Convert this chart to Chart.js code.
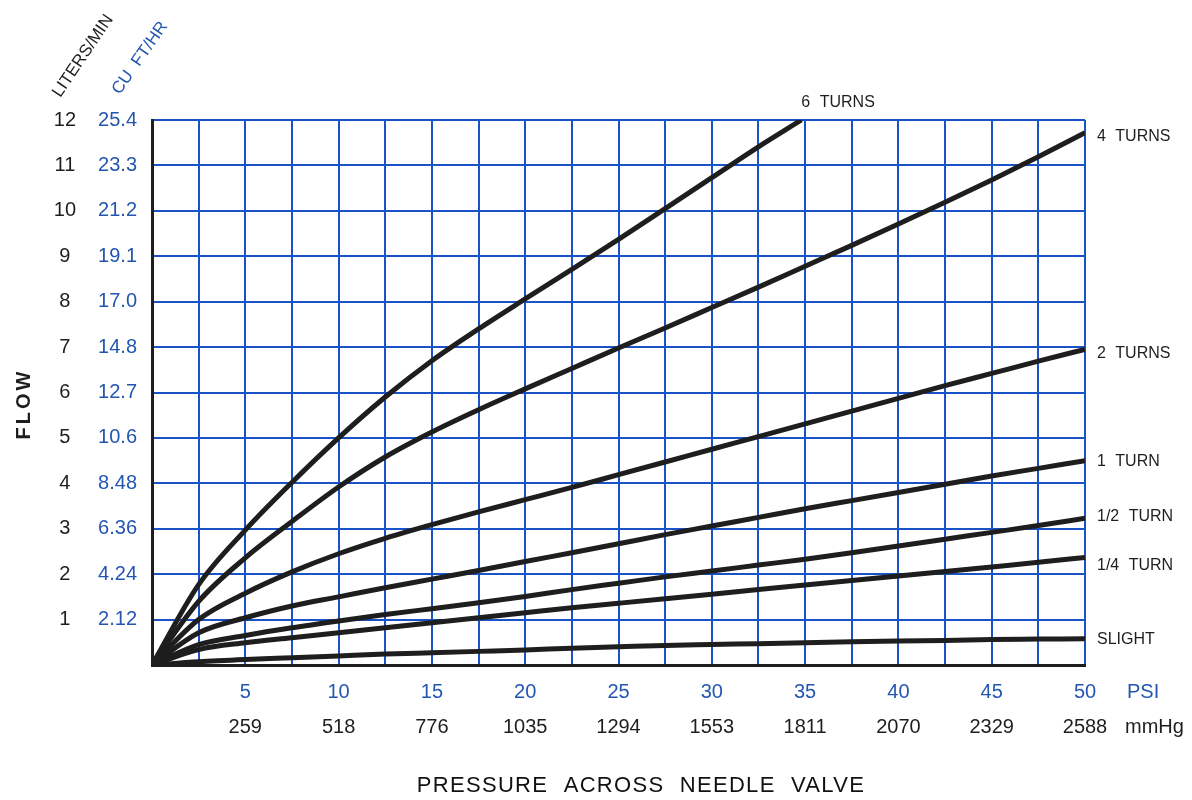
<!DOCTYPE html>
<html>
<head>
<meta charset="utf-8">
<script src="https://cdn.jsdelivr.net/npm/chart.js@4.4.1/dist/chart.umd.min.js"></script>
<style>
  body { margin: 0; background: #fff; }
  #wrap { width: 1192px; height: 800px; }
</style>
</head>
<body>
<div id="wrap"><canvas id="flowChart" width="1192" height="800"></canvas></div>
<script>
// tick labels
const psiTicks = [5, 10, 15, 20, 25, 30, 35, 40, 45, 50];
const mmHgLabels = ['259', '518', '776', '1035', '1294', '1553', '1811', '2070', '2329', '2588'];
const litersTicks = [1, 2, 3, 4, 5, 6, 7, 8, 9, 10, 11, 12];
const cuFtLabels = ['2.12', '4.24', '6.36', '8.48', '10.6', '12.7', '14.8', '17.0', '19.1', '21.2', '23.3', '25.4'];

const psiSteps = [0, 2.5, 5, 7.5, 10, 12.5, 15, 17.5, 20, 22.5, 25, 27.5, 30, 32.5, 35, 37.5, 40, 42.5, 45, 47.5, 50];
const sixTurnsPsi = [0, 2.5, 5, 7.5, 10, 12.5, 15, 17.5, 20, 22.5, 25, 27.5, 30, 32.5, 34.8];

// flow in liters/min
const sixTurns = [0, 1.77, 2.97, 4.02, 5.0, 5.9, 6.7, 7.4, 8.06, 8.71, 9.37, 10.05, 10.73, 11.41, 12.0];
const fourTurns = [0, 1.40, 2.36, 3.16, 3.92, 4.58, 5.13, 5.62, 6.08, 6.53, 6.98, 7.42, 7.87, 8.32, 8.78, 9.24, 9.71, 10.19, 10.68, 11.19, 11.72];
const twoTurns = [0, 1.0, 1.58, 2.05, 2.45, 2.79, 3.09, 3.37, 3.64, 3.91, 4.19, 4.47, 4.75, 5.03, 5.31, 5.59, 5.87, 6.15, 6.42, 6.69, 6.95];
const oneTurn = [0, 0.71, 1.04, 1.3, 1.5, 1.7, 1.89, 2.08, 2.28, 2.47, 2.67, 2.87, 3.06, 3.25, 3.44, 3.62, 3.8, 3.98, 4.16, 4.33, 4.5];
const halfTurn = [0, 0.45, 0.65, 0.82, 0.97, 1.11, 1.24, 1.37, 1.51, 1.66, 1.8, 1.94, 2.07, 2.2, 2.33, 2.47, 2.62, 2.77, 2.92, 3.07, 3.23];
const quarterTurn = [0, 0.34, 0.49, 0.6, 0.71, 0.82, 0.93, 1.04, 1.15, 1.26, 1.36, 1.46, 1.56, 1.66, 1.76, 1.86, 1.96, 2.06, 2.16, 2.26, 2.37];
const slight = [0, 0.07, 0.12, 0.16, 0.2, 0.24, 0.27, 0.3, 0.33, 0.37, 0.4, 0.43, 0.45, 0.47, 0.49, 0.51, 0.53, 0.54, 0.56, 0.57, 0.58];

const FONT = '"Liberation Sans", Arial, sans-serif';
const BLUE_TEXT = '#2456b0';
const GRID_BLUE = '#1a52c8';
const INK = '#1e1e1e';

// small vertical nudges for the curve names at the right edge
const labelNudge = { '4 TURNS': 4, '2 TURNS': 4, '1 TURN': 1, '1/2 TURN': -2, '1/4 TURN': 8, 'SLIGHT': 1 };

function pairs(xs, ys) {
    return ys.map((y, i) => ({ x: xs[i], y: y }));
}

function curve(label, xs, ys) {
    return {
        label: label,
        data: pairs(xs, ys),
        borderColor: INK,
        borderWidth: 5,
        pointRadius: 0,
        cubicInterpolationMode: 'monotone',
        fill: false
    };
}

function rotatedText(ctx, text, x, y, deg) {
    ctx.save();
    ctx.translate(x, y);
    ctx.rotate(deg * Math.PI / 180);
    ctx.fillText(text, 0, 0);
    ctx.restore();
}

const textPlugin = {
    id: 'valveText',
    afterDraw(chart) {
        const ctx = chart.ctx;
        const area = chart.chartArea;
        const xs = chart.scales.x;
        const ys = chart.scales.y;
        ctx.save();

        // curve names
        ctx.font = '16px ' + FONT;
        ctx.fillStyle = INK;
        ctx.textBaseline = 'middle';
        ctx.textAlign = 'left';
        ctx.wordSpacing = '5px';
        chart.data.datasets.forEach(ds => {
            const last = ds.data[ds.data.length - 1];
            const px = xs.getPixelForValue(last.x);
            const py = ys.getPixelForValue(last.y);
            if (last.x < xs.max) {
                ctx.fillText(ds.label, px, py - 17);
            } else {
                ctx.fillText(ds.label, area.right + 12, py + (labelNudge[ds.label] || 0));
            }
        });

        // units at the end of the x axes
        ctx.font = '20px ' + FONT;
        ctx.wordSpacing = '0px';
        ctx.fillStyle = BLUE_TEXT;
        ctx.fillText('PSI', area.right + 42, xs.top + 27);
        ctx.fillStyle = INK;
        ctx.fillText('mmHg', area.right + 40, chart.scales.x2.top + 17);

        // axis title
        ctx.textAlign = 'center';
        ctx.font = '22px ' + FONT;
        ctx.letterSpacing = '1.3px';
        ctx.wordSpacing = '8px';
        ctx.fillStyle = '#111';
        ctx.fillText('PRESSURE ACROSS NEEDLE VALVE', 641, 786);

        // left side titles
        ctx.letterSpacing = '0px';
        ctx.wordSpacing = '5px';
        ctx.font = '17px ' + FONT;
        ctx.fillStyle = INK;
        rotatedText(ctx, 'LITERS/MIN', area.left - 69, area.top - 64, -56);
        ctx.fillStyle = BLUE_TEXT;
        rotatedText(ctx, 'CU FT/HR', area.left - 12, area.top - 62, -55);

        ctx.fillStyle = INK;
        ctx.font = 'bold 20px ' + FONT;
        ctx.letterSpacing = '3px';
        rotatedText(ctx, 'FLOW', 24, 404, -90);

        ctx.restore();
    }
};

const tickFont = { family: FONT, size: 20 };

new Chart(document.getElementById('flowChart'), {
    type: 'line',
    data: {
        datasets: [
            curve('6 TURNS', sixTurnsPsi, sixTurns),
            curve('4 TURNS', psiSteps, fourTurns),
            curve('2 TURNS', psiSteps, twoTurns),
            curve('1 TURN', psiSteps, oneTurn),
            curve('1/2 TURN', psiSteps, halfTurn),
            curve('1/4 TURN', psiSteps, quarterTurn),
            curve('SLIGHT', psiSteps, slight)
        ]
    },
    options: {
        responsive: false,
        animation: false,
        layout: { padding: { left: 40, right: 107, top: 120, bottom: 50 } },
        plugins: { legend: { display: false }, tooltip: { enabled: false } },
        scales: {
            x: {
                type: 'linear', position: 'bottom', weight: 0,
                min: 0, max: 50,
                grid: { color: GRID_BLUE, lineWidth: 2, drawTicks: false, z: -1 },
                border: { color: INK, width: 3, z: 2 },
                ticks: {
                    stepSize: 2.5, autoSkip: false, maxRotation: 0, padding: 15,
                    color: BLUE_TEXT, font: tickFont,
                    callback: v => psiTicks.includes(v) ? String(v) : ''
                },
                afterFit: s => { s.height = 45; }
            },
            x2: {
                type: 'linear', position: 'bottom', weight: 1,
                min: 0, max: 50,
                grid: { display: false, drawTicks: false },
                border: { display: false },
                ticks: {
                    stepSize: 5, autoSkip: false, maxRotation: 0, padding: 5,
                    color: INK, font: tickFont,
                    callback: v => psiTicks.includes(v) ? mmHgLabels[psiTicks.indexOf(v)] : ''
                },
                afterFit: s => { s.height = 40; }
            },
            y: {
                type: 'linear', position: 'left', weight: 1,
                min: 0, max: 12,
                grid: { color: GRID_BLUE, lineWidth: 2, drawTicks: false, z: -1 },
                border: { display: false },
                ticks: {
                    stepSize: 1, autoSkip: false, padding: 16, crossAlign: 'center',
                    color: INK, font: tickFont,
                    callback: v => litersTicks.includes(v) ? String(v) : ''
                },
                afterFit: s => { s.width = 52; }
            },
            y2: {
                type: 'linear', position: 'left', weight: 0,
                min: 0, max: 12,
                grid: { display: false, drawTicks: false },
                border: { color: INK, width: 3, z: 2 },
                ticks: {
                    stepSize: 1, autoSkip: false, padding: 15, crossAlign: 'center',
                    color: BLUE_TEXT, font: tickFont,
                    callback: v => litersTicks.includes(v) ? cuFtLabels[litersTicks.indexOf(v)] : ''
                },
                afterFit: s => { s.width = 60; }
            }
        }
    },
    plugins: [textPlugin]
});
</script>
</body>
</html>
